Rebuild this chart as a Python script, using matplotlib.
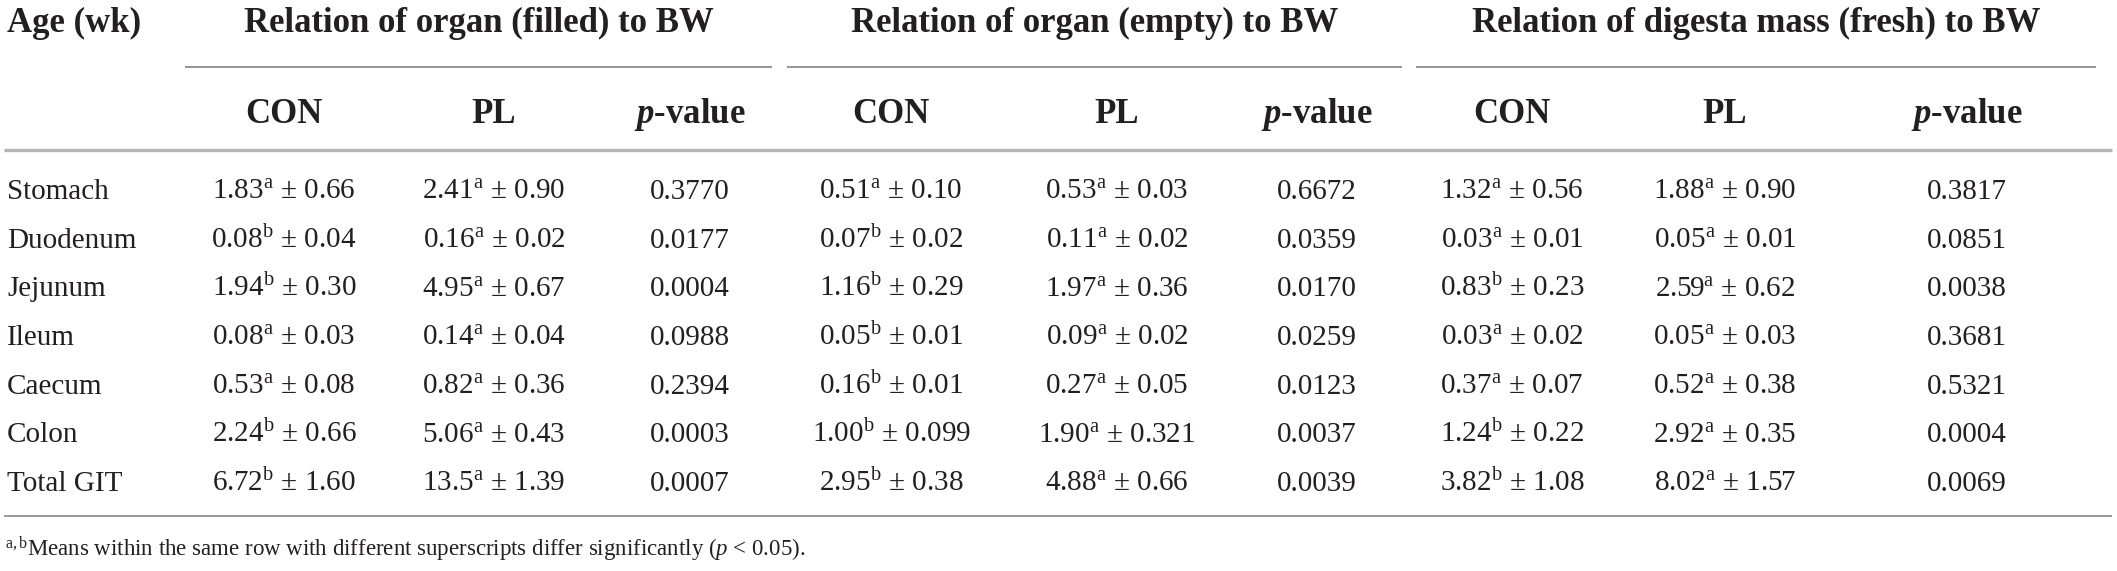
import matplotlib
matplotlib.use("Agg")
import matplotlib.pyplot as plt

plt.rcParams["font.family"] = ["Liberation Serif", "DejaVu Serif"]
plt.rcParams["mathtext.fontset"] = "custom"
plt.rcParams["mathtext.rm"] = "Liberation Serif"
plt.rcParams["mathtext.it"] = "Liberation Serif:italic"
plt.rcParams["mathtext.bf"] = "Liberation Serif:bold"
plt.rcParams["mathtext.bfit"] = "Liberation Serif:italic:bold"

# table data
organs = ["Stomach", "Duodenum", "Jejunum", "Ileum", "Caecum", "Colon", "Total GIT"]
groups = ["Relation of organ (filled) to BW",
          "Relation of organ (empty) to BW",
          "Relation of digesta mass (fresh) to BW"]
sub_headers = ["CON", "PL", "$\\mathbfit{p}$-value"]

filled_con = ["1.83", "0.08", "1.94", "0.08", "0.53", "2.24", "6.72"]
filled_con_sup = ["a", "b", "b", "a", "a", "b", "b"]
filled_con_sd = ["0.66", "0.04", "0.30", "0.03", "0.08", "0.66", "1.60"]
filled_pl = ["2.41", "0.16", "4.95", "0.14", "0.82", "5.06", "13.5"]
filled_pl_sup = ["a", "a", "a", "a", "a", "a", "a"]
filled_pl_sd = ["0.90", "0.02", "0.67", "0.04", "0.36", "0.43", "1.39"]
filled_p = ["0.3770", "0.0177", "0.0004", "0.0988", "0.2394", "0.0003", "0.0007"]

empty_con = ["0.51", "0.07", "1.16", "0.05", "0.16", "1.00", "2.95"]
empty_con_sup = ["a", "b", "b", "b", "b", "b", "b"]
empty_con_sd = ["0.10", "0.02", "0.29", "0.01", "0.01", "0.099", "0.38"]
empty_pl = ["0.53", "0.11", "1.97", "0.09", "0.27", "1.90", "4.88"]
empty_pl_sup = ["a", "a", "a", "a", "a", "a", "a"]
empty_pl_sd = ["0.03", "0.02", "0.36", "0.02", "0.05", "0.321", "0.66"]
empty_p = ["0.6672", "0.0359", "0.0170", "0.0259", "0.0123", "0.0037", "0.0039"]

digesta_con = ["1.32", "0.03", "0.83", "0.03", "0.37", "1.24", "3.82"]
digesta_con_sup = ["a", "a", "b", "a", "a", "b", "b"]
digesta_con_sd = ["0.56", "0.01", "0.23", "0.02", "0.07", "0.22", "1.08"]
digesta_pl = ["1.88", "0.05", "2.59", "0.05", "0.52", "2.92", "8.02"]
digesta_pl_sup = ["a", "a", "a", "a", "a", "a", "a"]
digesta_pl_sd = ["0.90", "0.01", "0.62", "0.03", "0.38", "0.35", "1.57"]
digesta_p = ["0.3817", "0.0851", "0.0038", "0.3681", "0.5321", "0.0004", "0.0069"]

footnote = "$^{\\mathrm{a,b}}$Means within the same row with different superscripts differ significantly ($\\mathit{p}$ < 0.05)."


def cell(mean, sup, sd):
    return "$\\mathrm{" + mean + "}^{\\mathrm{" + sup + "}}$ ± " + sd


def main():
    W, H = 2117, 571
    fig = plt.figure(figsize=(W / 100, H / 100), dpi=100)
    ax = fig.add_axes([0, 0, 1, 1])
    ax.set_xlim(0, W)
    ax.set_ylim(H, 0)
    ax.axis("off")

    ink = "#231f20"
    head_size = 25
    body_size = 21

    # layout (pixels)
    group_lines = [(185, 772), (787, 1402), (1416, 2096)]
    col_x = [[284, 494, 690], [891, 1117, 1317], [1512, 1725, 1967]]
    row0 = 199
    row_step = 48.7

    ax.text(7, 32, "Age (wk)", fontsize=head_size, fontweight="bold", color=ink, va="baseline")

    for g, title in enumerate(groups):
        x0, x1 = group_lines[g]
        ax.text((x0 + x1) / 2, 32, title, fontsize=head_size, fontweight="bold",
                color=ink, ha="center", va="baseline")
        ax.plot([x0, x1], [67, 67], color="#8c8c8c", lw=1.3, solid_capstyle="butt")
        for c, sh in enumerate(sub_headers):
            ax.text(col_x[g][c], 123, sh, fontsize=head_size, fontweight="bold",
                    color=ink, ha="center", va="baseline")

    ax.plot([4, 2112], [150, 150], color="#b4b4b4", lw=2.4, solid_capstyle="butt")
    ax.plot([4, 2112], [516, 516], color="#9a9a9a", lw=1.4, solid_capstyle="butt")

    table = [
        (filled_con, filled_con_sup, filled_con_sd, filled_pl, filled_pl_sup, filled_pl_sd, filled_p),
        (empty_con, empty_con_sup, empty_con_sd, empty_pl, empty_pl_sup, empty_pl_sd, empty_p),
        (digesta_con, digesta_con_sup, digesta_con_sd, digesta_pl, digesta_pl_sup, digesta_pl_sd, digesta_p),
    ]

    for i, organ in enumerate(organs):
        y = row0 + i * row_step
        ax.text(7, y, organ, fontsize=body_size, color=ink, va="baseline")
        for g, (cm, cs, csd, pm, ps, psd, pv) in enumerate(table):
            ax.text(col_x[g][0], y, cell(cm[i], cs[i], csd[i]), fontsize=body_size,
                    color=ink, ha="center", va="baseline")
            ax.text(col_x[g][1], y, cell(pm[i], ps[i], psd[i]), fontsize=body_size,
                    color=ink, ha="center", va="baseline")
            ax.text(col_x[g][2], y, pv[i], fontsize=body_size,
                    color=ink, ha="center", va="baseline")

    ax.text(5, 556, footnote, fontsize=16.5, color=ink, va="baseline")

    fig.savefig("out.png", dpi=100)


if __name__ == "__main__":
    main()
